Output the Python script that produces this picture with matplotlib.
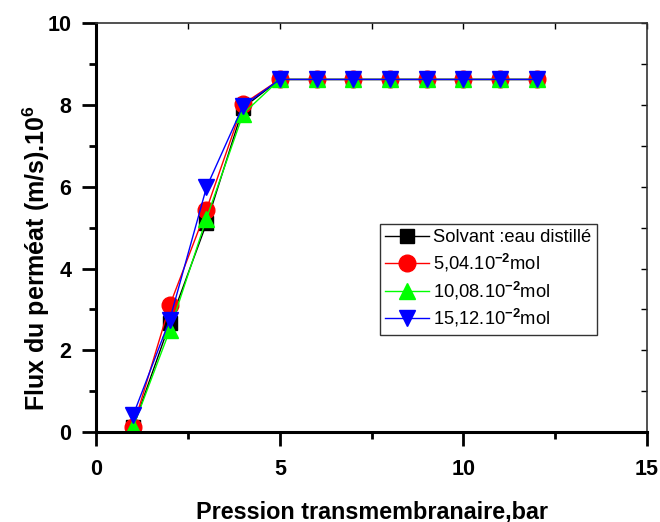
import matplotlib
matplotlib.use('Agg')
import matplotlib.pyplot as plt
from matplotlib.ticker import MultipleLocator

plt.rcParams['font.family'] = ['Liberation Sans', 'DejaVu Sans']
plt.rcParams['mathtext.fontset'] = 'custom'
plt.rcParams['mathtext.rm'] = 'Liberation Sans'
plt.rcParams['mathtext.bf'] = 'Liberation Sans:bold'

# données
pression = [1, 2, 3, 4, 5, 6, 7, 8, 9, 10, 11, 12]
flux_solvant = [0.12, 2.66, 5.1, 7.93, 8.62, 8.62, 8.62, 8.62, 8.62, 8.62, 8.62, 8.62]
flux_504 = [0.12, 3.1, 5.44, 8.02, 8.62, 8.62, 8.62, 8.62, 8.62, 8.62, 8.62, 8.62]
flux_1008 = [0.12, 2.49, 5.22, 7.78, 8.62, 8.62, 8.62, 8.62, 8.62, 8.62, 8.62, 8.62]
flux_1512 = [0.41, 2.75, 5.98, 7.98, 8.62, 8.62, 8.62, 8.62, 8.62, 8.62, 8.62, 8.62]

labels = ['Solvant :eau distillé',
          r'5,04.10$^{\mathbf{-2}}$mol',
          r'10,08.10$^{\mathbf{-2}}$mol',
          r'15,12.10$^{\mathbf{-2}}$mol']

fig = plt.figure(figsize=(6.6, 5.22), dpi=100)
ax = fig.add_axes([0.146, 0.172, 0.834, 0.784])

ax.plot(pression, flux_solvant, color='black', marker='s', ms=10, lw=1, label=labels[0])
ax.plot(pression, flux_504, color='red', marker='o', ms=12, lw=1, label=labels[1])
ax.plot(pression, flux_1008, color='#00ff00', marker='^', ms=12, lw=1, label=labels[2])
ax.plot(pression, flux_1512, color='blue', marker='v', ms=12, lw=1, label=labels[3])

ax.set_xlim(0, 15)
ax.set_ylim(0, 10)
ax.xaxis.set_major_locator(MultipleLocator(5))
ax.xaxis.set_minor_locator(MultipleLocator(2.5))
ax.yaxis.set_major_locator(MultipleLocator(2))
ax.yaxis.set_minor_locator(MultipleLocator(1))

for side in ['left', 'bottom']:
    ax.spines[side].set_linewidth(2.2)
for side in ['top', 'right']:
    ax.spines[side].set_linewidth(1.2)
    ax.spines[side].set_color('#333333')

ax.tick_params(which='major', direction='out', length=10, width=2, labelsize=15.5)
ax.tick_params(axis='y', which='major', pad=8)
ax.tick_params(axis='x', which='major', pad=9)
ax.tick_params(which='minor', direction='out', length=5, width=2)
for lab in ax.get_xticklabels() + ax.get_yticklabels():
    lab.set_fontweight('bold')

# ticks internes en haut et à droite
sec_x = ax.secondary_xaxis('top')
sec_x.set_xticks([0, 5, 10, 15])
sec_x.xaxis.set_minor_locator(MultipleLocator(2.5))
sec_x.tick_params(which='both', direction='in', length=4, width=1, labeltop=False)
sec_x.spines['top'].set_visible(False)
sec_y = ax.secondary_yaxis('right')
sec_y.set_yticks([0, 2, 4, 6, 8, 10])
sec_y.yaxis.set_minor_locator(MultipleLocator(1))
sec_y.tick_params(which='both', direction='in', length=4, width=1, labelright=False)
sec_y.spines['right'].set_visible(False)

ax.set_xlabel('Pression transmembranaire,bar', fontsize=16.8, fontweight='bold', labelpad=15)
ax.set_ylabel(r'Flux du perméat (m/s).10$^{\mathbf{6}}$', fontsize=18, fontweight='bold')
ax.yaxis.set_label_coords(-0.081, 0.425)

leg = ax.legend(loc='upper left', bbox_to_anchor=(0.515, 0.509), fontsize=13.2,
                frameon=True, fancybox=False, edgecolor='black', handlelength=2.4,
                borderpad=0.3, labelspacing=0.3, handletextpad=0.2, borderaxespad=0)
leg.get_frame().set_linewidth(1)

fig.savefig('out.png', dpi=100)
